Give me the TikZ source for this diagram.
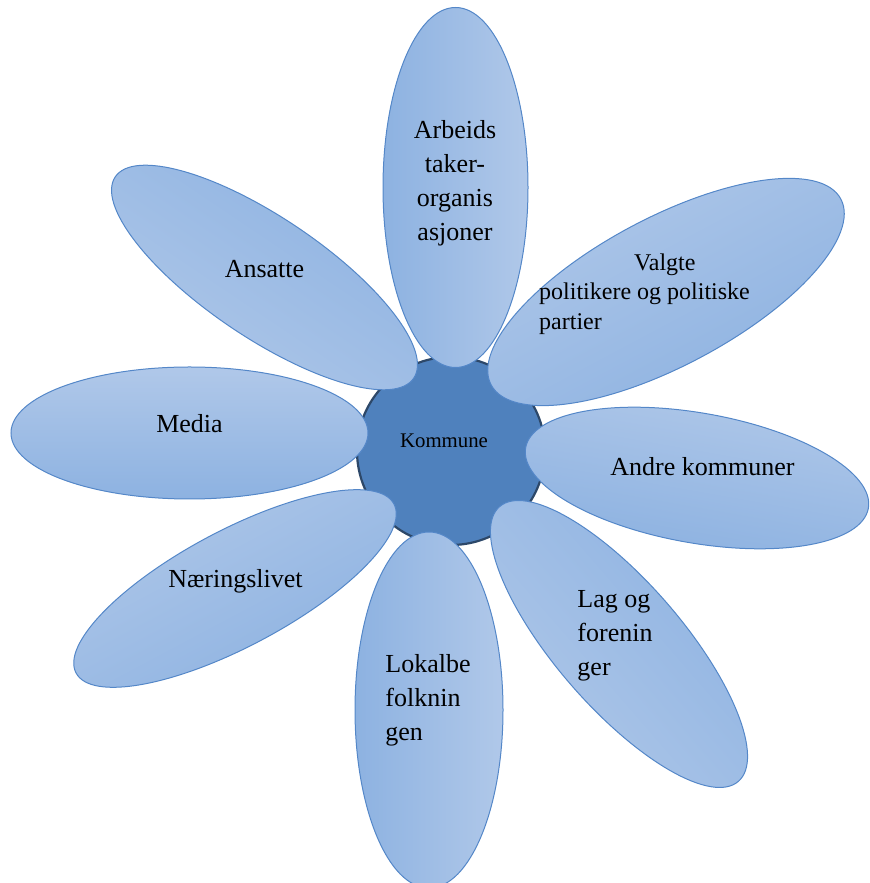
\documentclass[tikz,border=0pt]{standalone}
\usepackage{fontspec}
\setmainfont{Liberation Serif}
\usetikzlibrary{shapes.geometric}

\definecolor{petallight}{RGB}{176,200,233}
\definecolor{petaldark}{RGB}{141,178,225}
\definecolor{petalline}{RGB}{84,135,200}
\definecolor{hubfill}{RGB}{79,129,189}
\definecolor{hubline}{RGB}{45,72,105}

\begin{document}
\begin{tikzpicture}[
    x=0.5pt, y=0.5pt,
    hub/.style={circle, draw=hubline, line width=1.1pt, fill=hubfill, minimum size=94pt, inner sep=0pt},
    petal/.style={ellipse, draw=petalline, line width=0.5pt, inner sep=0pt, top color=petallight, bottom color=petaldark},
    bigtext/.style={font=\fontsize{13}{17}\selectfont, inner sep=0pt},
    midtext/.style={font=\fontsize{12}{14.75}\selectfont, inner sep=0pt},
    hubtext/.style={font=\fontsize{10.4}{12}\selectfont, inner sep=0pt}
]

% ============================================================
% CANVAS: 870 x 883 px, origin bottom left, 1 px = 0.5pt
% ============================================================
\useasboundingbox (0,0) rectangle (870,883);

% ============================================================
% CENTRE: Kommune
% ============================================================
\node[hub] (kommune) at (451,432) {};
\node[hubtext] (kommunetxt) at (444,442) {Kommune};

% ============================================================
% PETALS (semi axes in px = size in pt)
% light side of the gradient follows the petal's rotation
% ============================================================

% Top: Arbeidstakerorganisasjoner
\node[petal, minimum width=180pt, minimum height=72.5pt, rotate=-90, shading angle=-90] (arbeid) at (455.5,695.5) {};
\node[bigtext, align=center] (arbeidtxt) at (455,700) {Arbeids\\taker-\\organis\\asjoner};

% Upper right: Valgte politikere
\node[petal, minimum width=198pt, minimum height=74pt, rotate=28, shading angle=28] (valgte) at (666,591) {};
\node[midtext, align=left] (valgtetxt) at (644.5,589) {\hspace*{47.5pt}Valgte\\politikere og politiske\\partier};

% Right: Andre kommuner
\node[petal, minimum width=174pt, minimum height=65pt, rotate=-10, shading angle=-10] (andre) at (697,405) {};
\node[bigtext] (andretxt) at (702.5,416.5) {Andre kommuner};

% Lower right: Lag og foreninger
\node[petal, minimum width=182pt, minimum height=63pt, rotate=131, shading angle=131] (lag) at (619,239) {};
\node[bigtext, align=left] (lagtxt) at (615,247) {Lag og\\forenin\\ger};

% Bottom: Lokalbefolkningen
\node[petal, minimum width=178pt, minimum height=74pt, rotate=-90, shading angle=-90] (lokal) at (429,173) {};
\node[bigtext, align=left] (lokaltxt) at (428,182.5) {Lokalbe\\folknin\\gen};

% Lower left: Naeringslivet
\node[petal, minimum width=180pt, minimum height=58pt, rotate=28, shading angle=28] (naering) at (235,294.5) {};
\node[bigtext] (naeringtxt) at (235.5,301.5) {Næringslivet};

% Left: Media
\node[petal, minimum width=178.5pt, minimum height=66pt] (media) at (189.5,450) {};
\node[bigtext] (mediatxt) at (189.5,459) {Media};

% Upper left: Ansatte
\node[petal, minimum width=180pt, minimum height=60pt, rotate=146, shading angle=146] (ansatte) at (264.5,605.5) {};
\node[bigtext] (ansattetxt) at (264.5,614) {Ansatte};

\end{tikzpicture}
\end{document}
